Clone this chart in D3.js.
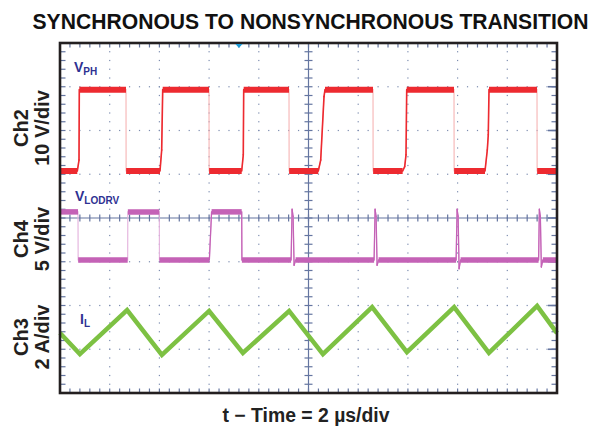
<!DOCTYPE html>
<html><head><meta charset="utf-8">
<script src="https://cdn.jsdelivr.net/npm/d3@7"></script>
<style>body{margin:0;background:#fff}svg{display:block}</style>
</head><body>
<svg id="c" width="597" height="431"></svg>
<script>
// ---------- data ----------
const title = "SYNCHRONOUS TO NONSYNCHRONOUS TRANSITION";
const xLabel = "t \u2212 Time = 2 \u00b5s/div";
const channelNames = ["Ch2", "Ch4", "Ch3"];
const channelScales = ["10 V/div", "5 V/div", "2 A/div"];
const traceNames = [["V", "PH"], ["V", "LODRV"], ["I", "L"]];
const timeDivs = [0, 2, 4, 6, 8, 10, 12, 14, 16, 18, 20]; // µs, 2 µs/div
const triggerTime = 7.2;

// Ch2 V_PH (V) vs time (µs)
const vphT = [0, 0.696, 0.765, 0.777, 2.656, 2.66, 4.024, 4.092, 4.133, 5.996, 6.0, 7.312, 7.376, 7.392, 9.215, 9.22,
  10.394, 10.491, 10.624, 10.664, 12.596, 12.6, 13.79, 13.871, 13.924, 13.952, 15.855, 15.86,
  17.103, 17.195, 17.235, 17.264, 19.195, 19.2, 19.98];
const vphV = [0, 0, 2.5, 18.6, 18.6, 0, 0, 4.8, 18.6, 18.6, 0, 0, 3.7, 18.6, 18.6, 0,
  0, 2.5, 17.0, 18.6, 18.6, 0, 0, 1.0, 3.7, 18.6, 18.6, 0,
  0, 4.8, 8.3, 18.6, 18.6, 0, 0];

// Ch4 V_LODRV (V)
const vloT = [0, 0.724, 0.73, 2.724, 2.73, 3.996, 4.0, 6.01, 6.1, 7.312, 7.32,
  9.30, 9.34, 9.38, 9.42, 9.48, 12.64, 12.68, 12.72, 12.76, 12.82,
  15.94, 15.98, 16.02, 16.06, 16.12, 19.26, 19.29, 19.33, 19.37, 19.43, 19.98];
const vloV = [5.5, 5.5, 0, 0, 5.5, 5.5, 0, 0, 5.5, 5.5, 0,
  0, 5.8, 5.0, -0.6, 0, 0, 5.8, 5.0, -0.6, 0,
  0, 5.8, 5.0, -1.0, 0, 0, 5.8, 5.0, -0.8, 0, 0];

// Ch3 I_L (A)
const ilT = [0, 0.80, 2.70, 4.10, 6.00, 7.36, 9.22, 10.58, 12.56, 13.96, 15.86, 17.26, 19.20, 20];
const ilA = [2.74, 1.78, 3.79, 1.74, 3.75, 1.83, 3.75, 1.78, 3.93, 1.87, 3.93, 1.83, 3.98, 2.74];

// ---------- layout ----------
const L = 60, R = 557, T = 43, B = 393;
const svg = d3.select("#c");
const x = d3.scaleLinear().domain([0, 20]).range([L, R]);
const yDiv = d3.scaleLinear().domain([-4, 4]).range([B, T]);
const off2 = 1.074, off4 = -0.96, off3 = -4;
const y2 = d3.scaleLinear().domain([(-4 - off2) * 10, (4 - off2) * 10]).range([B, T]);
const y4 = d3.scaleLinear().domain([(-4 - off4) * 5, (4 - off4) * 5]).range([B, T]);
const y3 = d3.scaleLinear().domain([(-4 - off3) * 2, (4 - off3) * 2]).range([B, T]);

const gridCol = "#7d8db0", axisCol = "#6475a0";
const minorX = d3.range(0, 20.001, 0.4);
const divY = d3.range(-4, 4.001, 1);
const minorY = d3.range(-4, 4.001, 0.2);

// dotted grid
const gGrid = svg.append("g");
timeDivs.slice(1, -1).forEach(t => {
  if (t === 10) return;
  minorY.slice(1, -1).forEach(d => {
    gGrid.append("rect").attr("x", x(t) - 0.6).attr("y", yDiv(d) - 0.6)
      .attr("width", 1.2).attr("height", 1.2).attr("fill", gridCol);
  });
});
divY.slice(1, -1).forEach(d => {
  if (d === 0) return;
  minorX.slice(1, -1).forEach(t => {
    gGrid.append("rect").attr("x", x(t) - 0.6).attr("y", yDiv(d) - 0.6)
      .attr("width", 1.2).attr("height", 1.2).attr("fill", gridCol);
  });
});

// center axes with ticks
const gAx = svg.append("g").attr("stroke", axisCol).attr("stroke-width", 1.2);
gAx.append("line").attr("x1", L).attr("x2", R).attr("y1", yDiv(0)).attr("y2", yDiv(0));
gAx.append("line").attr("x1", x(10)).attr("x2", x(10)).attr("y1", T).attr("y2", B);
minorX.forEach(t => {
  gAx.append("line").attr("x1", x(t)).attr("x2", x(t)).attr("y1", yDiv(0) - 3.5).attr("y2", yDiv(0) + 3.5);
  gAx.append("line").attr("x1", x(t)).attr("x2", x(t)).attr("y1", T).attr("y2", T + 4.5);
  gAx.append("line").attr("x1", x(t)).attr("x2", x(t)).attr("y1", B).attr("y2", B - 4.5);
});
minorY.forEach(d => {
  gAx.append("line").attr("x1", x(10) - 4).attr("x2", x(10) + 4).attr("y1", yDiv(d)).attr("y2", yDiv(d));
  gAx.append("line").attr("x1", L).attr("x2", L + 5.5).attr("y1", yDiv(d)).attr("y2", yDiv(d));
  gAx.append("line").attr("x1", R).attr("x2", R - 5.5).attr("y1", yDiv(d)).attr("y2", yDiv(d));
});
divY.forEach(d => {
  gAx.append("line").attr("x1", R).attr("x2", R - 9).attr("y1", yDiv(d)).attr("y2", yDiv(d)).attr("stroke-width", 1.6);
});

// ---------- traces ----------
function drawTrace(ts, vs, ys, col, pale, thick, thin) {
  const pts = ts.map((t, i) => [x(t), ys(vs[i])]);
  const g = svg.append("g").attr("fill", "none").attr("stroke-linecap", "butt");
  g.append("path").attr("d", d3.line()(pts)).attr("stroke", pale).attr("stroke-width", 1.1);
  d3.pairs(d3.range(pts.length)).forEach(([a, b]) => {
    const dt = ts[b] - ts[a];
    if (vs[a] === vs[b] && dt > 0.05) {
      g.append("line").attr("x1", pts[a][0]).attr("x2", pts[b][0]).attr("y1", pts[a][1]).attr("y2", pts[b][1])
        .attr("stroke", col).attr("stroke-width", thick);
    } else if (dt > 0.008) {
      g.append("line").attr("x1", pts[a][0]).attr("x2", pts[b][0]).attr("y1", pts[a][1]).attr("y2", pts[b][1])
        .attr("stroke", col).attr("stroke-width", thin).attr("stroke-linecap", "round");
    }
  });
}
drawTrace(vphT, vphV, y2, "#ed2a30", "#f6b4b4", 6, 1.6);
drawTrace(vloT, vloV, y4, "#c462b6", "#e3b0dc", 5.5, 1.3);

svg.append("path").attr("d", d3.line().x(d => x(d[0])).y(d => y3(d[1]))(ilT.map((t, i) => [t, ilA[i]])))
  .attr("fill", "none").attr("stroke", "#7dc143").attr("stroke-width", 4.5).attr("stroke-linejoin", "miter");

// frame
svg.append("rect").attr("x", L).attr("y", T).attr("width", R - L).attr("height", B - T)
  .attr("fill", "none").attr("stroke", "#231f20").attr("stroke-width", 2.6);

// trigger marker
svg.append("path").attr("d", `M${x(triggerTime) - 3.5},${T + 1}L${x(triggerTime) + 3.5},${T + 1}L${x(triggerTime)},${T + 5}Z`)
  .attr("fill", "#1d9bd7");

// ---------- text ----------
const font = "'Liberation Sans', Arial, Helvetica, sans-serif";
svg.append("text").attr("x", 310.5).attr("y", 28.5).attr("text-anchor", "middle")
  .attr("font-family", font).attr("font-weight", "bold").attr("font-size", 21.5).attr("fill", "#111")
  .attr("textLength", 556).attr("lengthAdjust", "spacingAndGlyphs")
  .text(title);
svg.append("text").attr("x", 306).attr("y", 422).attr("text-anchor", "middle")
  .attr("font-family", font).attr("font-weight", "bold").attr("font-size", 19.5).attr("fill", "#222")
  .attr("textLength", 167).attr("lengthAdjust", "spacingAndGlyphs")
  .text(xLabel);

const labCY = [128, 239, 337];
channelNames.forEach((n, i) => {
  const g = svg.append("g").attr("font-family", font).attr("font-weight", "bold").attr("font-size", 20)
    .attr("fill", "#231f20").attr("text-anchor", "middle");
  g.append("text").attr("transform", `translate(28,${labCY[i]}) rotate(-90)`).text(n);
  g.append("text").attr("transform", `translate(49,${labCY[i]}) rotate(-90)`).text(channelScales[i]);
});

const tracePos = [[74, 72], [75, 201], [80, 324]];
traceNames.forEach((nm, i) => {
  const t = svg.append("text").attr("x", tracePos[i][0]).attr("y", tracePos[i][1])
    .attr("font-family", font).attr("font-weight", "bold").attr("font-size", 14).attr("fill", "#2e3192");
  t.append("tspan").text(nm[0]);
  t.append("tspan").attr("dy", 3).attr("font-size", 10).text(nm[1]);
});
</script>
</body></html>
